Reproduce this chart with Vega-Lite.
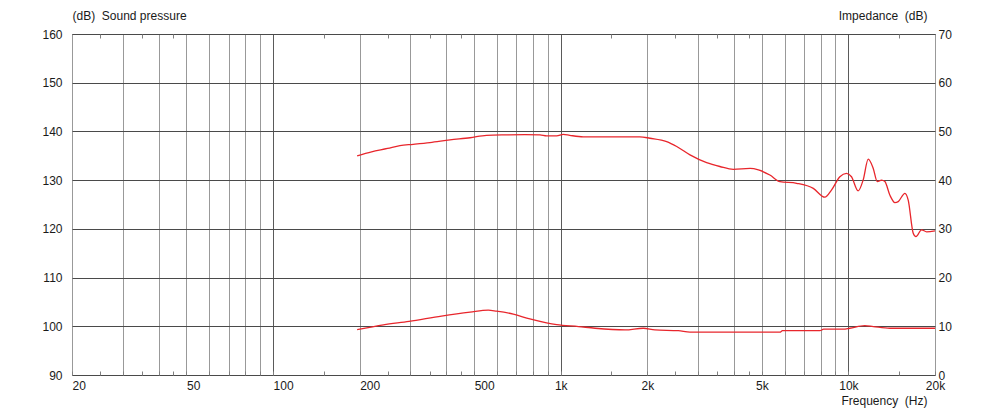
{
  "$schema": "https://vega.github.io/schema/vega-lite/v6.json",
  "autosize": "none",
  "padding": {"left": 72, "top": 34, "right": 65, "bottom": 39},
  "width": 863,
  "height": 341,
  "background": "white",
  "config": {
    "view": {"stroke": "#555555", "strokeWidth": 1},
    "font": "Liberation Sans",
    "axis": {"labelFont": "Liberation Sans", "titleFont": "Liberation Sans", "labelFontSize": 12, "titleFontSize": 12, "titleFontWeight": "normal", "labelColor": "#1a1a1a", "titleColor": "#1a1a1a"}
  },
  "resolve": {"scale": {"y": "independent"}, "axis": {"x": "independent"}},
  "layer": [
    {
      "data": {"values": [
        {"f": 196, "spl": 135.0}, {"f": 220, "spl": 135.8}, {"f": 250, "spl": 136.5}, {"f": 276, "spl": 137.1},
        {"f": 307, "spl": 137.35}, {"f": 351, "spl": 137.7}, {"f": 412, "spl": 138.25}, {"f": 484, "spl": 138.7},
        {"f": 552, "spl": 139.2}, {"f": 648, "spl": 139.3}, {"f": 750, "spl": 139.35}, {"f": 847, "spl": 139.3},
        {"f": 893, "spl": 139.1}, {"f": 968, "spl": 139.1}, {"f": 1021, "spl": 139.4}, {"f": 1075, "spl": 139.2},
        {"f": 1197, "spl": 138.9}, {"f": 1500, "spl": 138.9}, {"f": 1884, "spl": 138.9}, {"f": 2043, "spl": 138.6},
        {"f": 2334, "spl": 137.9}, {"f": 2530, "spl": 136.9}, {"f": 2814, "spl": 135.2}, {"f": 3215, "spl": 133.6},
        {"f": 3574, "spl": 132.8}, {"f": 3981, "spl": 132.2}, {"f": 4550, "spl": 132.4}, {"f": 4866, "spl": 132.1},
        {"f": 5333, "spl": 131.05}, {"f": 5780, "spl": 129.7}, {"f": 6607, "spl": 129.35}, {"f": 7551, "spl": 128.3},
        {"f": 8282, "spl": 126.5}, {"f": 8743, "spl": 128.0}, {"f": 9340, "spl": 130.7}, {"f": 9848, "spl": 131.4},
        {"f": 10250, "spl": 130.7}, {"f": 10810, "spl": 127.8}, {"f": 11250, "spl": 130.0}, {"f": 11720, "spl": 134.3},
        {"f": 12200, "spl": 132.4}, {"f": 12600, "spl": 129.7}, {"f": 13040, "spl": 130.0}, {"f": 13390, "spl": 129.7},
        {"f": 13940, "spl": 126.9}, {"f": 14510, "spl": 125.4}, {"f": 14900, "spl": 125.6}, {"f": 15720, "spl": 127.3},
        {"f": 16140, "spl": 125.9}, {"f": 16800, "spl": 119.1}, {"f": 17170, "spl": 118.4}, {"f": 17960, "spl": 119.8},
        {"f": 18700, "spl": 119.4}, {"f": 20000, "spl": 119.6}
      ]},
      "mark": {"type": "line", "color": "#e8262c", "strokeWidth": 1.3, "interpolate": "monotone"},
      "encoding": {
        "x": {
          "field": "f", "type": "quantitative",
          "scale": {"type": "log", "domain": [20, 20000], "nice": false},
          "axis": {
            "orient": "bottom",
            "values": [20, 25, 30, 35, 40, 45, 50, 60, 70, 80, 90, 100, 150, 200, 250, 300, 350, 400, 450, 500, 600, 700, 800, 900, 1000, 1500, 2000, 2500, 3000, 3500, 4000, 4500, 5000, 6000, 7000, 8000, 9000, 10000, 15000, 20000],
            "grid": true,
            "gridColor": {"condition": {"test": "indexof([100,1000,10000], datum.value) >= 0", "value": "#5a5a5a"}, "value": "#999999"},
            "gridOpacity": {"condition": {"test": "indexof([25,35,45,150,250,350,450,1500,2500,3500,4500,15000], datum.value) >= 0", "value": 0}, "value": 1},
            "ticks": true, "tickSize": -4, "tickColor": "#808080",
            "domain": false,
            "labelExpr": "datum.value == 1000 ? '1k' : datum.value == 2000 ? '2k' : datum.value == 5000 ? '5k' : datum.value == 10000 ? '10k' : datum.value == 20000 ? '20k' : (indexof([20,50,100,200,500], datum.value) >= 0 ? '' + datum.value : '')",
            "labelAlign": {"condition": {"test": "datum.value >= 1000", "value": "center"}, "value": "left"},
            "labelOverlap": false, "labelFlush": false, "labelPadding": 9, "labelBaseline": "top",
            "title": "Frequency\u00a0 (Hz)", "titleX": 855, "titleY": 29, "titleAlign": "right", "titleBaseline": "alphabetic"
          }
        },
        "y": {
          "field": "spl", "type": "quantitative",
          "scale": {"domain": [90, 160], "nice": false, "zero": false},
          "axis": {
            "orient": "left",
            "values": [90, 100, 110, 120, 130, 140, 150, 160],
            "grid": true, "gridColor": "#4a4a4a",
            "ticks": false, "domain": false, "labelPadding": 10,
            "title": "(dB)\u00a0 Sound pressure", "titleAngle": 0, "titleX": 0, "titleY": -15, "titleAlign": "left", "titleBaseline": "alphabetic"
          }
        }
      }
    },
    {
      "data": {"values": [
        {"f": 196, "imp": 9.3}, {"f": 242, "imp": 10.3}, {"f": 297, "imp": 11.0}, {"f": 385, "imp": 12.1},
        {"f": 484, "imp": 12.9}, {"f": 560, "imp": 13.3}, {"f": 598, "imp": 13.1}, {"f": 684, "imp": 12.5},
        {"f": 781, "imp": 11.5}, {"f": 893, "imp": 10.7}, {"f": 968, "imp": 10.35}, {"f": 1153, "imp": 9.95},
        {"f": 1316, "imp": 9.6}, {"f": 1673, "imp": 9.25}, {"f": 1936, "imp": 9.6}, {"f": 2126, "imp": 9.25},
        {"f": 2562, "imp": 9.1}, {"f": 2814, "imp": 8.8}, {"f": 4365, "imp": 8.8}, {"f": 5780, "imp": 8.8},
        {"f": 5900, "imp": 9.1}, {"f": 7962, "imp": 9.1}, {"f": 8200, "imp": 9.4}, {"f": 9590, "imp": 9.4},
        {"f": 10110, "imp": 9.6}, {"f": 11400, "imp": 10.15}, {"f": 12200, "imp": 9.95}, {"f": 13940, "imp": 9.6},
        {"f": 18700, "imp": 9.6}, {"f": 20000, "imp": 9.6}
      ]},
      "mark": {"type": "line", "color": "#e8262c", "strokeWidth": 1.3, "interpolate": "monotone"},
      "encoding": {
        "x": {
          "field": "f", "type": "quantitative",
          "scale": {"type": "log", "domain": [20, 20000], "nice": false},
          "axis": {
            "orient": "top",
            "values": [25, 35, 45, 150, 250, 350, 450, 1500, 2500, 3500, 4500, 15000],
            "grid": false, "labels": false, "domain": false,
            "ticks": true, "tickSize": -4, "tickColor": "#808080",
            "title": null
          }
        },
        "y": {
          "field": "imp", "type": "quantitative",
          "scale": {"domain": [0, 70], "nice": false, "zero": false},
          "axis": {
            "orient": "right",
            "values": [0, 10, 20, 30, 40, 50, 60, 70],
            "grid": false, "ticks": false, "domain": false, "labelPadding": 3,
            "title": "Impedance\u00a0 (dB)", "titleAngle": 0, "titleX": -8, "titleY": -15, "titleAlign": "right", "titleBaseline": "alphabetic"
          }
        }
      }
    }
  ]
}
